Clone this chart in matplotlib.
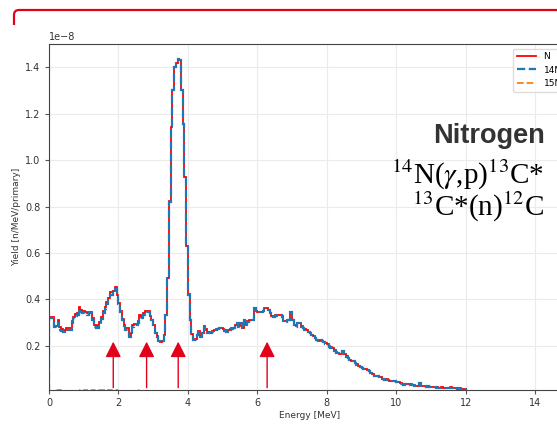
# %% Imports

import matplotlib.pyplot as plt
import numpy as np
from matplotlib.path import Path
from matplotlib.patches import PathPatch

# %% Data (yield per 0.05 MeV bin, units of 1e-8 n/MeV/primary)

BIN_WIDTH = 0.05

# 14N(g,p) component, one row per MeV
YIELD_14N = [
    # 0-1 MeV
    0.320, 0.320, 0.320, 0.280, 0.276, 0.300, 0.270, 0.265, 0.260, 0.265,
    0.270, 0.270, 0.270, 0.300, 0.320, 0.330, 0.335, 0.360, 0.345, 0.340,
    # 1-2 MeV
    0.340, 0.337, 0.335, 0.340, 0.340, 0.310, 0.280, 0.276, 0.278, 0.290,
    0.315, 0.340, 0.360, 0.380, 0.400, 0.420, 0.420, 0.426, 0.447, 0.410,
    # 2-3 MeV
    0.380, 0.345, 0.310, 0.285, 0.270, 0.270, 0.240, 0.250, 0.283, 0.290,
    0.290, 0.300, 0.320, 0.320, 0.335, 0.347, 0.347, 0.345, 0.326, 0.310,
    # 3-4 MeV
    0.290, 0.254, 0.240, 0.219, 0.215, 0.220, 0.247, 0.333, 0.490, 0.820,
    1.140, 1.300, 1.400, 1.415, 1.435, 1.430, 1.300, 1.155, 0.925, 0.630,
    # 4-5 MeV
    0.420, 0.310, 0.250, 0.226, 0.226, 0.247, 0.260, 0.240, 0.254, 0.283,
    0.270, 0.257, 0.257, 0.257, 0.260, 0.265, 0.270, 0.272, 0.276, 0.273,
    # 5-6 MeV
    0.270, 0.265, 0.260, 0.265, 0.270, 0.273, 0.276, 0.290, 0.297, 0.283,
    0.297, 0.276, 0.310, 0.290, 0.304, 0.311, 0.311, 0.311, 0.361, 0.347,
    # 6-7 MeV
    0.347, 0.347, 0.347, 0.351, 0.360, 0.360, 0.354, 0.340, 0.326, 0.326,
    0.330, 0.333, 0.333, 0.333, 0.326, 0.304, 0.304, 0.311, 0.311, 0.347,
    # 7-8 MeV
    0.311, 0.290, 0.283, 0.297, 0.297, 0.283, 0.275, 0.270, 0.268, 0.260,
    0.255, 0.247, 0.240, 0.235, 0.226, 0.222, 0.226, 0.219, 0.215, 0.210,
    # 8-9 MeV
    0.205, 0.197, 0.193, 0.190, 0.180, 0.171, 0.168, 0.166, 0.166, 0.176,
    0.165, 0.154, 0.147, 0.140, 0.136, 0.133, 0.125, 0.119, 0.114, 0.109,
    # 9-10 MeV
    0.104, 0.100, 0.098, 0.097, 0.090, 0.083, 0.076, 0.069, 0.070, 0.069,
    0.066, 0.064, 0.058, 0.054, 0.055, 0.054, 0.049, 0.047, 0.048, 0.047,
    # 10-11 MeV
    0.043, 0.042, 0.037, 0.036, 0.033, 0.035, 0.036, 0.034, 0.033, 0.031,
    0.029, 0.027, 0.026, 0.040, 0.026, 0.026, 0.026, 0.025, 0.026, 0.024,
    # 11-12 MeV
    0.023, 0.023, 0.022, 0.020, 0.019, 0.019, 0.020, 0.019, 0.018, 0.019,
    0.017, 0.020, 0.018, 0.016, 0.017, 0.016, 0.016, 0.015, 0.014, 0.013,
]

# 15N component, almost nothing
YIELD_15N = [
    # 0-1 MeV
    0.004, 0.005, 0.005, 0.006, 0.0115, 0.012, 0.0115, 0.006, 0.005, 0.005,
    0.006, 0.005, 0.006, 0.005, 0.006, 0.007, 0.006, 0.007, 0.008, 0.0115,
    # 1-2 MeV
    0.0115, 0.008, 0.007, 0.008, 0.007, 0.0115, 0.012, 0.0115, 0.012, 0.0115,
    0.008, 0.009, 0.008, 0.007, 0.008, 0.0115, 0.012, 0.0115, 0.008, 0.007,
    # 2-3 MeV
    0.006, 0.006, 0.005, 0.006, 0.005, 0.005, 0.004, 0.005, 0.006, 0.005,
    0.005, 0.006, 0.0115, 0.006, 0.005, 0.004, 0.004, 0.004, 0.003, 0.003,
] + [0.002] * 60 + [0.001] * 120

# arrows marking the structures, MeV
ARROW_ENERGIES = [1.85, 2.81, 3.72, 6.28]

SERIES_LABELS = ["N", "14N", "15N"]
SERIES_COLORS = ["red", "tab:blue", "tab:orange"]

ARROW_COLOR = "#e3001b"
TEXT_COLOR = "#333333"

# %% Derived

edges = np.round(np.arange(len(YIELD_14N) + 1) * BIN_WIDTH, 2)
y14 = np.array(YIELD_14N) * 1e-8
y15 = np.array(YIELD_15N) * 1e-8
ytot = y14 + y15

# %% Figure

W, H = 557, 424
plt.rcParams["mathtext.fontset"] = "stix"
fig = plt.figure(figsize=(W / 100, H / 100), dpi=100)


def px(x, y):
    # pixel position (from top-left) -> figure fraction
    return x / W, (H - y) / H


ax = fig.add_axes([49 / W, (H - 390) / H, (570 - 49) / W, (390 - 44) / H])

ax.stairs(ytot, edges, color=SERIES_COLORS[0], lw=1.3, label=SERIES_LABELS[0])
ax.stairs(y14, edges, color=SERIES_COLORS[1], lw=1.6, ls="--",
          label=SERIES_LABELS[1])
ax.stairs(y15, edges, color=SERIES_COLORS[2], lw=1.3, ls="--",
          label=SERIES_LABELS[2])

for e in ARROW_ENERGIES:
    ax.annotate(
        "",
        xy=(e, 0.218e-8),
        xytext=(e, 0.02e-8),
        arrowprops=dict(
            arrowstyle="-|>,head_length=9.5,head_width=4.8",
            mutation_scale=1,
            color=ARROW_COLOR,
            lw=1.0,
            shrinkA=0,
            shrinkB=0,
        ),
        zorder=5,
    )

ax.set_xlim(0, 15)
ax.set_ylim(0.01e-8, 1.5e-8)
ax.set_xticks(np.arange(0, 15, 2))
ax.yaxis.set_major_locator(plt.MultipleLocator(0.2e-8))

ax.grid(True, color="#ebebeb", lw=0.8)
ax.set_axisbelow(True)
ax.tick_params(labelsize=7, colors="#555555", labelcolor="#333333",
               length=3, pad=3)
ax.yaxis.get_offset_text().set_fontsize(7)
for s in ax.spines.values():
    s.set_color("#444444")

ax.set_xlabel("Energy [MeV]", fontsize=6.5, color="#333333", labelpad=2)
ax.set_ylabel("Yield [n/MeV/primary]", fontsize=6.5, color="#333333",
              labelpad=3)

leg = ax.legend(loc="upper right", fontsize=6.5, edgecolor="#d5d5d5",
                handlelength=2.2)

# %% Slide decorations

x0, y0 = px(14, 25)
x1, y1 = px(14, 15)
xc, yc = px(14, 10)
x2, y2 = px(19, 10)
x3, y3 = px(W + 5, 10)
frame = Path(
    [(x0, y0), (x1, y1), (xc, yc), (x2, y2), (x3, y3)],
    [Path.MOVETO, Path.LINETO, Path.CURVE3, Path.CURVE3, Path.LINETO],
)
fig.patches.append(
    PathPatch(frame, transform=fig.transFigure, fill=False,
              edgecolor=ARROW_COLOR, lw=1.6)
)

fig.text(*px(545, 143), "Nitrogen", ha="right", va="baseline",
         fontsize=19.5, fontweight="bold", family="Liberation Sans",
         color=TEXT_COLOR)
fig.text(*px(544, 184), r"$^{14}$N($\gamma$,p)$^{13}$C*", ha="right",
         va="baseline", fontsize=21, family="Liberation Serif", color="black")
fig.text(*px(544, 216), r"$^{13}$C*(n)$^{12}$C", ha="right",
         va="baseline", fontsize=21, family="Liberation Serif", color="black")

fig.savefig("out.png", dpi=100)
